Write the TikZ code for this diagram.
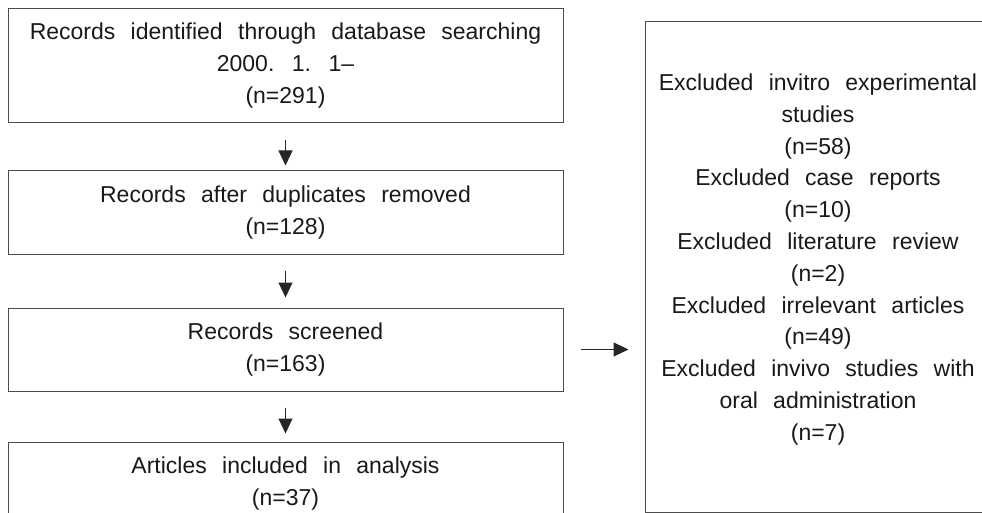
\documentclass[tikz,border=0pt]{standalone}
\usepackage{fontspec}
\setmainfont{Liberation Sans}[WordSpace=2.4]
\usetikzlibrary{arrows.meta}
\begin{document}
\begin{tikzpicture}[x=1pt,y=-1pt,
  box/.style={draw=black!70, line width=1pt, rectangle, minimum width=555pt, inner sep=0pt, align=center, font=\fontsize{23}{32}\selectfont, text=black!90},
  exclbox/.style={draw=black!70, line width=1pt, rectangle, minimum width=346pt, minimum height=490pt, inner sep=0pt},
  txt/.style={align=center, inner sep=0pt, font=\fontsize{23}{31.8}\selectfont, text=black!90},
  flow/.style={draw=black!85, line width=1pt, -{Triangle[length=15pt,width=14pt]}},
]
\useasboundingbox (0,0) rectangle (982,513);
\clip (0,0) rectangle (982,513);
\node[box, minimum height=114pt] (b1) at (285.5,66) {Records identified through database searching\\2000. 1. 1–\\(n=291)};
\node[box, minimum height=83pt] (b2) at (285.5,212.5) {Records after duplicates removed\\(n=128)};
\node[box, minimum height=83pt] (b3) at (285.5,349.5) {Records screened\\(n=163)};
\node[box, minimum height=83pt] (b4) at (285.5,483.5) {Articles included in analysis\\(n=37)};
\node[exclbox] (excl) at (818,267) {};
\node[txt] (excltext) at ([yshift=7.5pt]excl.center) {Excluded invitro experimental\\studies\\(n=58)\\Excluded case reports\\(n=10)\\Excluded literature review\\(n=2)\\Excluded irrelevant articles\\(n=49)\\Excluded invivo studies with\\oral administration\\(n=7)};
\draw[flow, shorten <=17pt, shorten >=5pt] (b1.south) -- (b2.north);
\draw[flow, shorten <=16pt, shorten >=10pt] (b2.south) -- (b3.north);
\draw[flow, shorten <=16pt, shorten >=8pt] (b3.south) -- (b4.north);
\draw[flow, shorten <=17pt, shorten >=16pt] (b3.east) -- (b3.east -| excl.west);
\end{tikzpicture}
\end{document}
